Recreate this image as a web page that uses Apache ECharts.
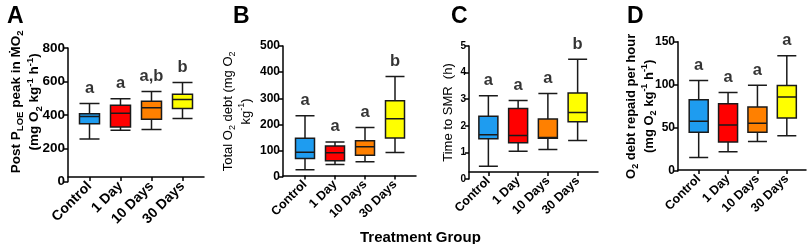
<!DOCTYPE html>
<html>
<head>
<meta charset="utf-8">
<script src="https://cdn.jsdelivr.net/npm/echarts@6/dist/echarts.min.js"></script>
<style>
  html, body { margin: 0; padding: 0; background: #fff; }
  #chart { width: 809px; height: 244px; }
</style>
</head>
<body>
<div id="chart"></div>
<script>
var groups = ['Control', '1 Day', '10 Days', '30 Days'];
var groupColors = ['#1e9cf0', '#ff0000', '#ff8000', '#ffff00'];

// [min, Q1, median, Q3, max]
var peakMO2 = [[256, 346, 390, 406, 468], [308, 328, 410, 458, 496], [312, 374, 442, 482, 540], [378, 438, 492, 524, 594]];
var totalDebt = [[27, 70, 94, 147, 233], [47, 61, 92, 117, 133], [57, 82, 115, 138, 188], [93, 148, 222, 291, 383]];
var timeToSMR = [[0.48, 1.51, 1.66, 2.36, 3.13], [1.04, 1.36, 1.64, 2.65, 2.95], [1.11, 1.53, 1.56, 2.26, 3.21], [1.45, 2.15, 2.5, 3.23, 4.5]];
var debtPerHour = [[15.8, 45, 57.7, 82.7, 105], [22.3, 33.5, 53.5, 78, 91.2], [34.2, 45, 55.4, 74.2, 99.6], [40.8, 61.5, 85.8, 99.2, 133.8]];

var lettersA = ['a', 'a', 'a,b', 'b'];
var lettersB = ['a', 'a', 'a', 'b'];
var lettersC = ['a', 'a', 'a', 'b'];
var lettersD = ['a', 'a', 'a', 'a'];

var axisMaxA = 800, stepA = 200;
var axisMaxB = 500, stepB = 100;
var axisMaxC = 5, stepC = 1;
var axisMaxD = 150, stepD = 50;

var font = 'Arial, "Liberation Sans", sans-serif';

function richStyles(size, weight) {
    return {
        n: { fontSize: size, fontWeight: weight, fontFamily: font, color: '#000', lineHeight: size + 5 },
        s: { fontSize: size - 4, fontWeight: weight, fontFamily: font, color: '#000', verticalAlign: 'bottom', lineHeight: size - 2 },
        p: { fontSize: size - 4, fontWeight: weight, fontFamily: font, color: '#000', verticalAlign: 'top', lineHeight: size - 2 }
    };
}

var panels = [
    { tag: 'A', tagX: 2, data: peakMO2, letters: lettersA, max: axisMaxA, step: stepA,
      axisX: 68, left: 74, width: 124, top: 48, zeroY: 181.7, lineY: 177, lineEnd: 204,
      tickSize: 13.5, catSize: 14, boxW: 20, nameGap: 24, nameSize: 13.5, nameWeight: 'bold', nameShift: 26,
      name: '{n|Post P}{s|LOE}{n| peak in \u1E40O}{s|2}\n{n|(mg O}{s|2}{n| kg}{p|-1}{n| h}{p|-1}{n|)}' },
    { tag: 'B', tagX: 228, data: totalDebt, letters: lettersB, max: axisMaxB, step: stepB,
      axisX: 283, left: 290, width: 120, top: 46, zeroY: 176.7, lineY: 175.5, lineEnd: 416,
      tickSize: 12, catSize: 12.5, boxW: 19, nameGap: 28, nameSize: 13, nameWeight: 'normal', nameShift: 0,
      name: '{n|Total O}{s|2}{n| debt (mg O}{s|2}\n{n|kg}{p|-1}{n|)}' },
    { tag: 'C', tagX: 446, data: timeToSMR, letters: lettersC, max: axisMaxC, step: stepC,
      axisX: 469, left: 473.5, width: 119, top: 46, zeroY: 179, lineY: 172, lineEnd: 598,
      tickSize: 10, catSize: 12.5, boxW: 19, nameGap: 12, nameSize: 13, nameWeight: 'normal', nameShift: 0,
      name: '{n|Time to SMR  (h)}' },
    { tag: 'D', tagX: 622, data: debtPerHour, letters: lettersD, max: axisMaxD, step: stepD,
      axisX: 678, left: 684, width: 117.5, top: 41.7, zeroY: 171, lineY: 170, lineEnd: 806,
      tickSize: 12, catSize: 12.5, boxW: 19, nameGap: 20, nameSize: 13, nameWeight: 'bold', nameShift: 0,
      name: '{n|O}{s|2}{n| debt repaid per hour}\n{n|(mg O}{s|2}{n| kg}{p|-1}{n| h}{p|-1}{n|)}' }
];

var grid = [], xAxis = [], yAxis = [], series = [], title = [];

panels.forEach(function (p, i) {
    var dataGrid = i * 2, frameGrid = i * 2 + 1;

    title.push({ text: p.tag, left: p.tagX, top: 0,
        textStyle: { fontSize: 23, fontWeight: 'bold', fontFamily: font, color: '#000' } });

    // plotting area: box plots + y axis
    grid.push({ left: p.left, top: p.top, width: p.width, height: p.zeroY - p.top });
    // frame that only draws the wider x axis line
    grid.push({ left: p.axisX, top: p.top, width: p.lineEnd - p.axisX, height: p.lineY - p.top });

    xAxis.push({
        gridIndex: dataGrid, type: 'category', data: groups,
        offset: -(p.zeroY - p.lineY),
        axisLine: { show: false },
        axisTick: { show: true, alignWithLabel: true, length: 4, lineStyle: { color: '#000', width: 1.5 } },
        axisLabel: { rotate: 45, margin: 7, interval: 0, fontSize: p.catSize, fontWeight: 'bold', fontFamily: font, color: '#000' }
    });
    xAxis.push({
        gridIndex: frameGrid, type: 'value', min: 0, max: 1,
        axisLine: { show: true, onZero: false, lineStyle: { color: '#000', width: 1.5 } },
        axisTick: { show: false }, axisLabel: { show: false }, splitLine: { show: false }
    });

    yAxis.push({
        gridIndex: dataGrid, type: 'value', min: 0, max: p.max, interval: p.step,
        offset: p.left - p.axisX,
        name: p.name, nameLocation: 'middle', nameGap: p.nameGap, nameRotate: 90,
        nameMoveOverlap: false,
        nameTextStyle: { padding: [0, 0, 0, p.nameShift], rich: richStyles(p.nameSize, p.nameWeight) },
        axisLine: { show: true, lineStyle: { color: '#000', width: 1.5 } },
        axisTick: { show: true, length: 4, lineStyle: { color: '#000', width: 1.5 } },
        axisLabel: { margin: 3, fontSize: p.tickSize, fontWeight: 'bold', fontFamily: font, color: '#000' },
        splitLine: { show: false }
    });
    yAxis.push({ gridIndex: frameGrid, type: 'value', show: false, min: 0, max: 1 });

    series.push({
        type: 'boxplot', xAxisIndex: dataGrid, yAxisIndex: dataGrid,
        boxWidth: [p.boxW, p.boxW],
        itemStyle: { borderColor: '#1a1a1a', borderWidth: 1.5 },
        emphasis: { disabled: true },
        data: p.data.map(function (v, k) {
            return { value: v, itemStyle: { color: groupColors[k] } };
        })
    });
    series.push({
        type: 'scatter', xAxisIndex: dataGrid, yAxisIndex: dataGrid,
        symbolSize: 1, itemStyle: { color: 'rgba(0,0,0,0)' },
        label: {
            show: true, position: 'top', distance: 6,
            fontSize: 16.5, fontWeight: 'bold', fontFamily: font, color: '#000',
            formatter: function (d) { return p.letters[d.dataIndex]; }
        },
        data: p.data.map(function (v, k) { return [groups[k], v[4]]; })
    });
});

title.push({ text: 'Treatment Group', left: 355, top: 225,
    textStyle: { fontSize: 15, fontWeight: 'bold', fontFamily: font, color: '#000' } });

var chart = echarts.init(document.getElementById('chart'), null, { renderer: 'canvas' });
chart.setOption({
    animation: false,
    title: title,
    grid: grid,
    xAxis: xAxis,
    yAxis: yAxis,
    series: series
});

window.addEventListener('resize', chart.resize);
</script>
</body>
</html>
